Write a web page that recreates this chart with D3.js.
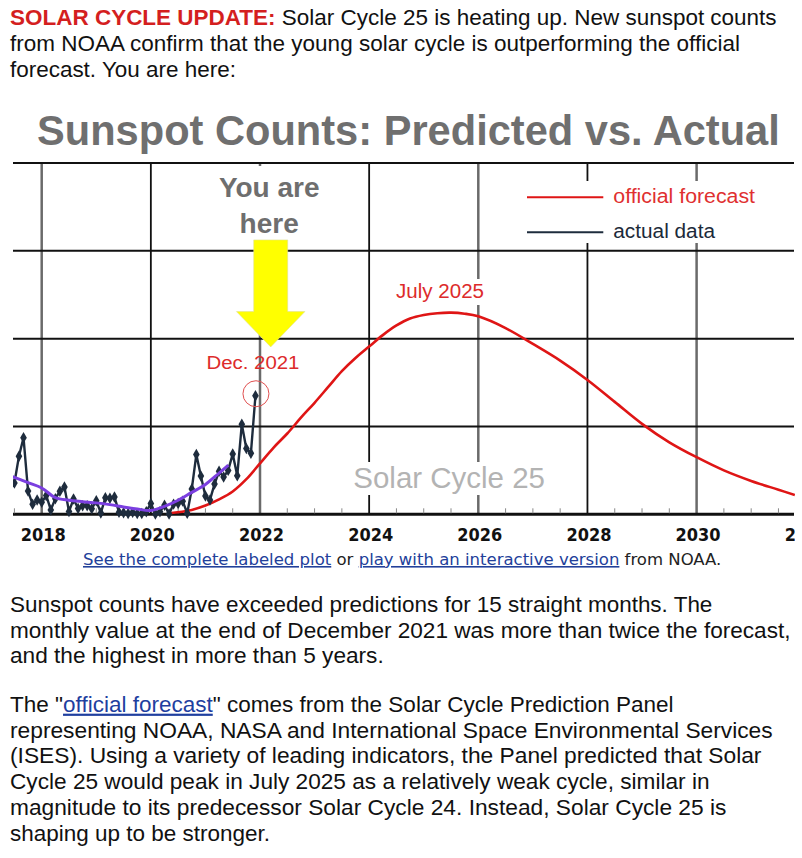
<!DOCTYPE html>
<html><head><meta charset="utf-8">
<script src="https://cdn.jsdelivr.net/npm/d3@7"></script>
<style>html,body{margin:0;padding:0;background:#fff;} svg{display:block} text{white-space:pre}</style>
</head><body>
<svg id="c" width="802" height="858"></svg>
<script>
// ---------------- DATA ----------------
const headerLines = [
  [{t:"SOLAR CYCLE UPDATE:", red:true, bold:true}, {t:" Solar Cycle 25 is heating up. New sunspot counts"}],
  [{t:"from NOAA confirm that the young solar cycle is outperforming the official"}],
  [{t:"forecast. You are here:"}]
];
const chartTitle = "Sunspot Counts: Predicted vs. Actual";
const sourceLine = [
  {t:"See the complete labeled plot", link:true}, {t:" or "},
  {t:"play with an interactive version", link:true}, {t:" from NOAA."}
];
const para1 = [
  [{t:"Sunspot counts have exceeded predictions for 15 straight months. The"}],
  [{t:"monthly value at the end of December 2021 was more than twice the forecast,"}],
  [{t:"and the highest in more than 5 years."}]
];
const para2 = [
  [{t:"The \""}, {t:"official forecast", link:true}, {t:"\" comes from the Solar Cycle Prediction Panel"}],
  [{t:"representing NOAA, NASA and International Space Environmental Services"}],
  [{t:"(ISES). Using a variety of leading indicators, the Panel predicted that Solar"}],
  [{t:"Cycle 25 would peak in July 2025 as a relatively weak cycle, similar in"}],
  [{t:"magnitude to its predecessor Solar Cycle 24. Instead, Solar Cycle 25 is"}],
  [{t:"shaping up to be stronger."}]
];

const yearTicks = [2018, 2020, 2022, 2024, 2026, 2028, 2030, 2032];
const countGrid = [0, 50, 100, 150, 200];

// actual monthly sunspot counts, Jun 2017 .. Dec 2021
const actualStart = [2017, 6];
const actualValues = [
  19.2, 17.8, 33.1, 43.6, 13.2, 5.7, 8.2,
  6.8, 10.7, 2.5, 8.9, 13.1, 15.6, 1.6, 8.7, 3.3, 4.9, 4.9, 3.1,
  7.7, 0.8, 9.4, 9.1, 9.9, 1.2, 0.9, 0.5, 1.1, 0.4, 0.5, 1.5,
  6.2, 0.2, 1.5, 5.2, 0.2, 5.8, 6.1, 7.5, 0.6, 14.4, 34.0, 21.8,
  10.4, 8.2, 17.2, 24.5, 21.2, 25.0, 34.3, 22.0, 51.3, 37.4, 34.8, 67.5
];
// smoothed (purple) curve
const smoothYears  = [2017.42, 2017.75, 2018.0, 2018.25, 2018.5, 2018.75, 2019.0, 2019.25, 2019.5, 2019.75, 2020.0, 2020.25, 2020.5, 2020.75, 2021.0, 2021.25, 2021.42];
const smoothValues = [22, 18, 15, 9.5, 8, 7.2, 6.5, 5.5, 4.2, 3.0, 2.2, 4.5, 8, 12.5, 17, 23.5, 28];
// official forecast (red)
const forecastYears  = [2020.30, 2020.75, 2021.00, 2021.25, 2021.50, 2021.75, 2022.00, 2022.25, 2022.50, 2022.75, 2023.00, 2023.25, 2023.50, 2023.75, 2024.00, 2024.25, 2024.50, 2024.75, 2025.00, 2025.25, 2025.50, 2025.75, 2026.00, 2026.50, 2027.00, 2027.50, 2028.00, 2028.50, 2029.00, 2029.50, 2030.00, 2030.50, 2031.00, 2031.50, 2031.80];
const forecastValues = [0.5, 2.5, 5, 8.5, 13, 20, 29, 38, 46, 55, 63.5, 72.5, 81.5, 89, 95.5, 102, 107.5, 111.5, 113.5, 114.5, 114.8, 114.2, 112.7, 106, 97, 87.5, 76.5, 64, 51.5, 41, 32.5, 25, 19, 14, 11];

const legendItems = ["official forecast", "actual data"];
const peakLabel = "July 2025";
const peakYear = 2025.5, peakValue = 114.8;
const decLabel = "Dec. 2021";
const hereLines = ["You are", "here"];
const cycleLabel = "Solar Cycle 25";

// ---------------- DRAW ----------------
const svg = d3.select("#c");
svg.append("rect").attr("width", 802).attr("height", 858).attr("fill", "#fff");

const x = d3.scaleLinear().domain([2018, 2030]).range([41.7, 696.6]);
const y = d3.scaleLinear().domain([0, 200]).range([514.3, 163]);
const XL = 13, XR = 794;

function fitLine(parent, x0, base, width, segs, o) {
  const t = parent.append("text")
    .attr("font-family", o.family).attr("font-size", o.size)
    .attr("fill", o.fill || "#111").attr("font-weight", o.weight || "normal");
  segs.forEach(s => {
    const ts = t.append("tspan").text(s.t);
    if (s.red) ts.attr("fill", "#d41f1f");
    if (s.bold) ts.attr("font-weight", "bold");
    if (s.link) ts.attr("fill", o.linkColor || "#1f3f9f").attr("text-decoration", "underline");
  });
  const w = t.node().getComputedTextLength();
  t.attr("transform", `translate(${x0},${base}) scale(${width / w},1)`);
  return t;
}

// header
const hdrW = [767, 730, 226];
headerLines.forEach((l, i) => fitLine(svg, 10, 25 + i * 26, hdrW[i], l, {family: "Liberation Sans, Arial", size: 22, fill: "#111"}));

// chart title
fitLine(svg, 37, 145, 743, [{t: chartTitle}], {family: "Liberation Sans, Arial", size: 42, weight: "bold", fill: "#6f6f6f"});

const defs = svg.append("defs");
defs.append("clipPath").attr("id", "clip").append("rect").attr("x", XL).attr("y", 150).attr("width", XR - XL + 1).attr("height", 410);
const g = svg.append("g").attr("clip-path", "url(#clip)");

// vertical grid
g.selectAll("line.v").data(yearTicks).join("line").attr("class", "v")
  .attr("x1", d => x(d)).attr("x2", d => x(d)).attr("y1", y(200)).attr("y2", y(0))
  .attr("stroke", (d, i) => i % 2 === 0 ? "#6a6a6a" : "#111")
  .attr("stroke-width", (d, i) => i % 2 === 0 ? 2.5 : 1.8);
// horizontal grid
g.selectAll("line.h").data(countGrid).join("line").attr("class", "h")
  .attr("x1", XL).attr("x2", XR).attr("y1", d => y(d)).attr("y2", d => y(d))
  .attr("stroke", "#111").attr("stroke-width", d => d === 0 ? 3 : 2);

// white boxes behind annotations
const boxes = [[520, 181, 245, 62], [205, 166, 130, 74], [393, 279, 94, 26], [350, 462, 200, 33]];
g.selectAll("rect.wb").data(boxes).join("rect").attr("class", "wb")
  .attr("x", d => d[0]).attr("y", d => d[1]).attr("width", d => d[2]).attr("height", d => d[3]).attr("fill", "#fff");

// minor ticks
const minor = d3.range(2017.5, 2032, 0.5).filter(v => v % 2 !== 0);
g.selectAll("line.m").data(minor).join("line").attr("class", "m")
  .attr("x1", d => x(d)).attr("x2", d => x(d)).attr("y1", y(0) - 1).attr("y2", y(0) - 6)
  .attr("stroke", "#888").attr("stroke-width", 1);

// x labels
g.selectAll("text.xl").data(yearTicks).join("text").attr("class", "xl")
  .attr("x", d => x(d) + 1.5).attr("y", 540.7).attr("text-anchor", "middle")
  .attr("font-family", "DejaVu Sans, Verdana").attr("font-weight", "bold").attr("font-size", 17)
  .attr("textLength", 45).attr("lengthAdjust", "spacingAndGlyphs").attr("fill", "#111")
  .text(d => d);

// forecast line
const fData = forecastYears.map((v, i) => [v, forecastValues[i]]);
g.append("path").datum(fData)
  .attr("d", d3.line().x(d => x(d[0])).y(d => y(d[1])).curve(d3.curveCatmullRom))
  .attr("fill", "none").attr("stroke", "#df1515").attr("stroke-width", 2.6);

// actual data
const aData = actualValues.map((v, i) => [actualStart[0] + (actualStart[1] - 1 + i) / 12, v]);
g.append("path").datum(aData)
  .attr("d", d3.line().x(d => x(d[0])).y(d => y(d[1])))
  .attr("fill", "none").attr("stroke", "#1e2c3d").attr("stroke-width", 2.4);
g.selectAll("path.mk").data(aData).join("path").attr("class", "mk")
  .attr("transform", d => `translate(${x(d[0])},${y(d[1])})`)
  .attr("d", d3.symbol(d3.symbolDiamond, 38))
  .attr("fill", "#1e2c3d");

// smoothed purple
const sData = smoothYears.map((v, i) => [v, smoothValues[i]]);
g.append("path").datum(sData)
  .attr("d", d3.line().x(d => x(d[0])).y(d => y(d[1])).curve(d3.curveCatmullRom))
  .attr("fill", "none").attr("stroke", "#7b3fe0").attr("stroke-width", 3);

// Dec 2021 highlight
const last = aData[aData.length - 1];
g.append("circle").attr("cx", x(last[0]) + 0.5).attr("cy", y(last[1]) - 2).attr("r", 13)
  .attr("fill", "none").attr("stroke", "#e05050").attr("stroke-width", 1);
g.append("text").attr("x", x(last[0]) - 2.5).attr("y", 369.3).attr("text-anchor", "middle")
  .attr("font-family", "Liberation Sans, Arial").attr("font-size", 18).attr("fill", "#dd2b2b")
  .attr("textLength", 93).attr("lengthAdjust", "spacingAndGlyphs").text(decLabel);

// yellow arrow (anchored in data space)
const ax = 2022.196, bw = 0.311, hw = 0.627;
const arrowPts = [[ax - bw, 156.2], [ax + bw, 156.2], [ax + bw, 115.4], [ax + hw, 115.4], [ax, 95.3], [ax - hw, 115.4], [ax - bw, 115.4]];
g.append("polygon").attr("points", arrowPts.map(p => [x(p[0]), y(p[1])].join(",")).join(" "))
  .attr("fill", "#ffff00").attr("stroke", "#e0e090").attr("stroke-width", 0.6);

// You are here
g.selectAll("text.here").data(hereLines).join("text").attr("class", "here")
  .attr("x", x(ax) - 1.5).attr("y", (d, i) => 196.7 + i * 36.6).attr("text-anchor", "middle")
  .attr("font-family", "Liberation Sans, Arial").attr("font-weight", "bold").attr("font-size", 28)
  .attr("fill", "#6e6e6e").text(d => d);

// peak label
g.append("text").attr("x", x(peakYear) - 11).attr("y", 298.3).attr("text-anchor", "middle")
  .attr("font-family", "Liberation Sans, Arial").attr("font-size", 20).attr("fill", "#dd2b2b")
  .attr("textLength", 88).attr("lengthAdjust", "spacingAndGlyphs").text(peakLabel);

// Solar Cycle 25
g.append("text").attr("x", 353.3).attr("y", 488.3)
  .attr("font-family", "Liberation Sans, Arial").attr("font-size", 29).attr("fill", "#b3b3b3")
  .attr("textLength", 191.7).attr("lengthAdjust", "spacingAndGlyphs").text(cycleLabel);

// legend
const legColors = ["#df1515", "#1e2c3d"];
const legTextColors = ["#e03030", "#1c2a3a"];
const legW = [141.7, 101.7];
legendItems.forEach((s, i) => {
  g.append("line").attr("x1", 527).attr("x2", 603.3).attr("y1", 197.3 + i * 35).attr("y2", 197.3 + i * 35)
    .attr("stroke", legColors[i]).attr("stroke-width", 2);
  g.append("text").attr("x", 613.3).attr("y", 202.7 + i * 35)
    .attr("font-family", "Liberation Sans, Arial").attr("font-size", 20).attr("fill", legTextColors[i])
    .attr("textLength", legW[i]).attr("lengthAdjust", "spacingAndGlyphs").text(s);
});

// source line
fitLine(svg, 83, 565, 639, sourceLine, {family: "DejaVu Sans, Verdana", size: 16, fill: "#222", linkColor: "#22409a"});

// paragraphs
const p1W = [703, 781, 374];
para1.forEach((l, i) => fitLine(svg, 10, 611.7 + i * 25.8, p1W[i], l, {family: "Liberation Sans, Arial", size: 22, fill: "#111", linkColor: "#1f3f9f"}));
const p2W = [664, 763, 752, 700, 717, 260];
para2.forEach((l, i) => fitLine(svg, 10, 711.7 + i * 25.8, p2W[i], l, {family: "Liberation Sans, Arial", size: 22, fill: "#111", linkColor: "#1f3f9f"}));
</script>
</body></html>
